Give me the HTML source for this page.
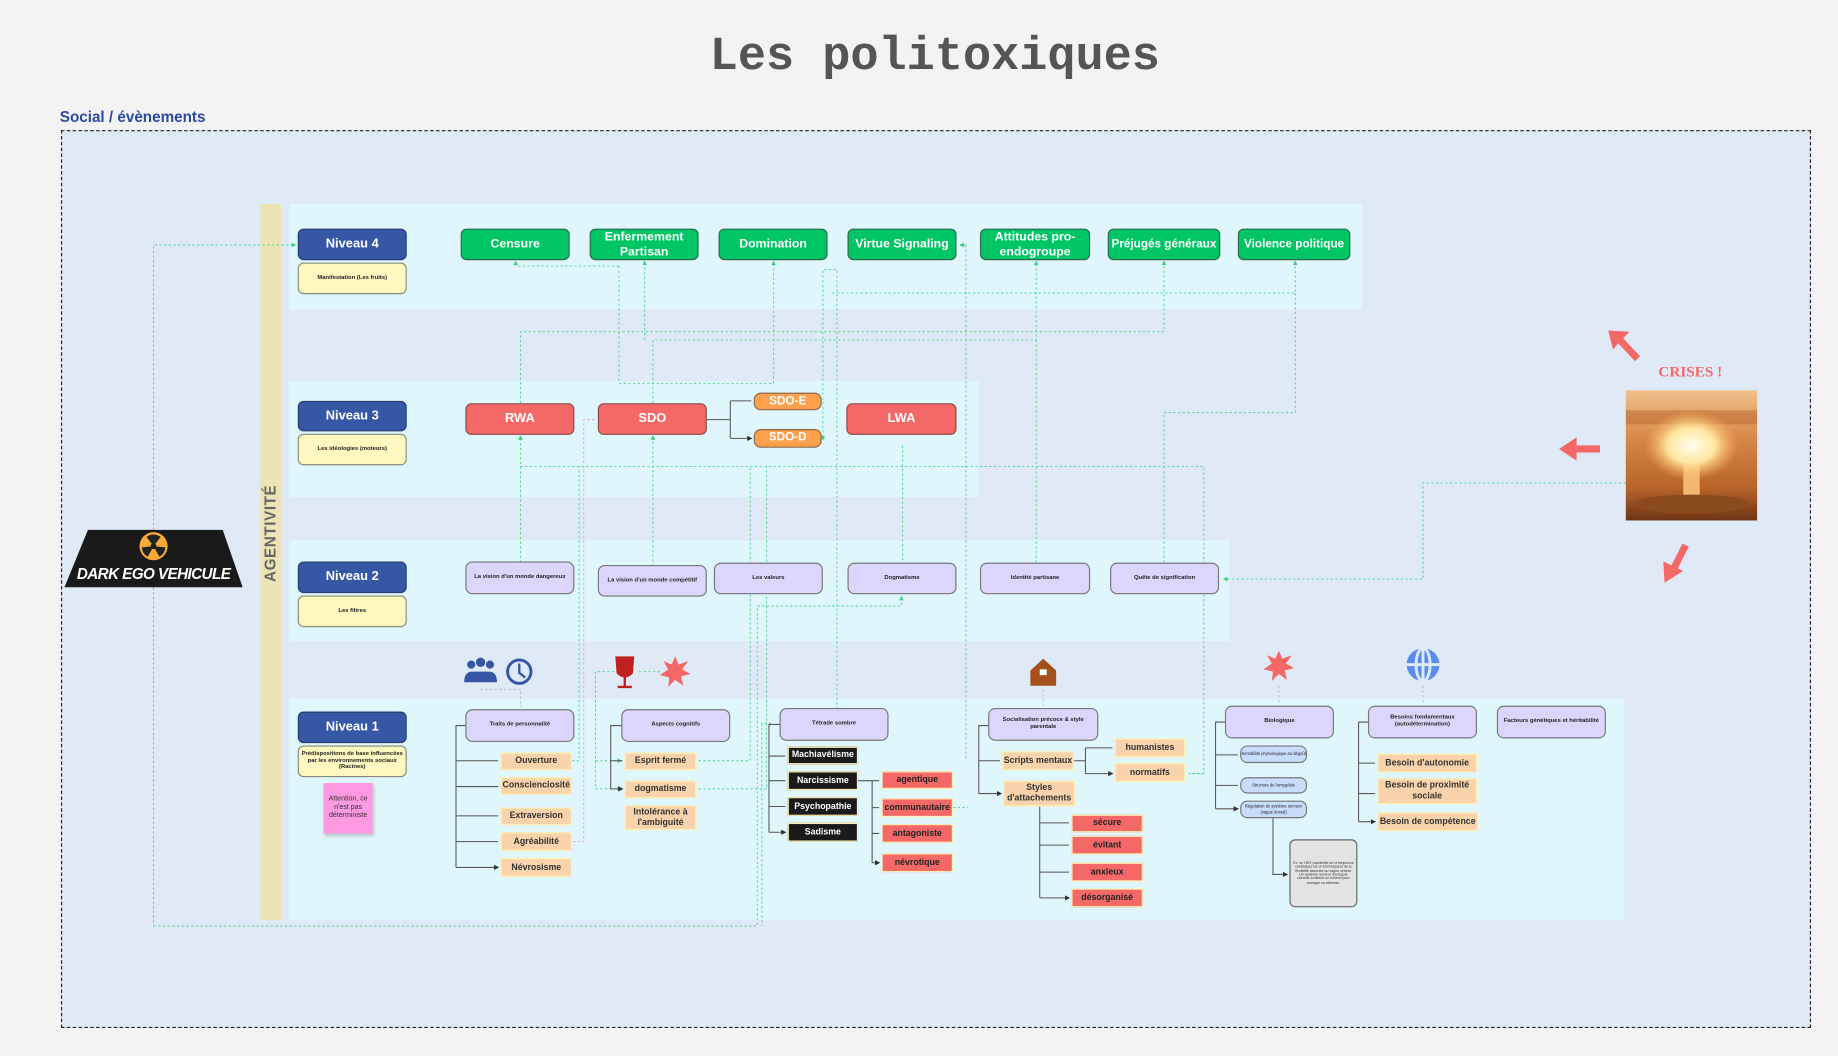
<!DOCTYPE html>
<html><head><meta charset="utf-8"><style>
html,body{margin:0;padding:0;width:1838px;height:1056px;overflow:hidden;background:#f3f3f3}
#w{position:absolute;left:0;top:0;width:1568px;height:901px;transform:scale(1.17219);transform-origin:0 0;font-family:"Liberation Sans",sans-serif}
.a{position:absolute;box-sizing:border-box;display:flex;align-items:center;justify-content:center;text-align:center;line-height:1.15}
.nv{background:#3557a5;color:#fff;border:1px solid #2a3f70;border-radius:5px;font-weight:bold;font-size:11px}
.sb{background:#fff7c0;border:1px solid #8a8a7a;border-radius:5px;font-size:5px;font-weight:bold;color:#222}
.g{background:#00c565;color:#fff;border:1px solid #2d6b4a;border-radius:5px;font-weight:bold;font-size:10.5px}
.r{background:#f56868;color:#fff;border:1px solid #8a4a4a;border-radius:5px;font-weight:bold;font-size:11px}
.o{background:#ffa04d;color:#fff;border:1px solid #8a6a4a;border-radius:6px;font-weight:bold;font-size:10px}
.p{background:#ddd6fc;border:1px solid #777;border-radius:6px;font-size:5px;color:#222;font-weight:bold}
.t{background:#f9d3ab;border:1px solid #fff0b0;font-size:7.5px;font-weight:bold;color:#333}
.k{background:#1a1a1a;border:1px solid #fff0b0;font-size:7.5px;font-weight:bold;color:#fff}
.rr{background:#f56868;border:1px solid #fff0b0;font-size:7.5px;font-weight:bold;color:#222}
.b{background:#c8dcfb;border:1px solid #777;border-radius:6px;font-size:3.5px;color:#222}
.band{position:absolute;background:#e0f6fd}
</style></head><body><div id="w">
<div class="a" style="left:500px;top:25px;width:595px;height:50px;font-family:'Liberation Mono',monospace;font-weight:bold;font-size:40px;color:#555">Les politoxiques</div>
<div style="position:absolute;left:51px;top:92px;font-size:13px;font-weight:bold;color:#2b4aa0">Social / évènements</div>
<div style="position:absolute;left:52px;top:111px;width:1493px;height:766px;background:#e0eaf6;border:1px dashed #222;box-sizing:border-box"></div>
<div class="band" style="left:247px;top:174px;width:915px;height:90px"></div>
<div class="band" style="left:247px;top:325px;width:588px;height:99px"></div>
<div class="band" style="left:247px;top:461px;width:802px;height:86px"></div>
<div class="band" style="left:247px;top:596px;width:1138px;height:189px"></div>
<div style="position:absolute;left:222px;top:174px;width:18px;height:611px;background:#ebe5b5"></div>
<div class="a" style="left:181px;top:446px;width:100px;height:18px;transform:rotate(-90deg);font-size:13px;font-weight:bold;color:#666;letter-spacing:0.5px">AGENTIVITÉ</div>

<svg style="position:absolute;left:0;top:0" width="1568" height="901">
<defs><marker id="m" markerWidth="5" markerHeight="5" refX="4" refY="2.5" orient="auto"><path d="M0,0L5,2.5L0,5z" fill="#3ecf7d"/></marker>
<marker id="k" markerWidth="5" markerHeight="5" refX="4" refY="2.5" orient="auto"><path d="M0,0L5,2.5L0,5z" fill="#333"/></marker>
<radialGradient id="boom" cx="50%" cy="50%" r="50%"><stop offset="0" stop-color="#fffdf0"/><stop offset="0.5" stop-color="#ffe7a0"/><stop offset="1" stop-color="#ffb060" stop-opacity="0"/></radialGradient>
<linearGradient id="sky" x1="0" y1="0" x2="0" y2="1"><stop offset="0" stop-color="#f0c08a"/><stop offset="0.35" stop-color="#d98a4a"/><stop offset="0.75" stop-color="#b8642a"/><stop offset="1" stop-color="#6e3414"/></linearGradient></defs>
<g fill="none" stroke="#4fd38a" stroke-width="0.8" stroke-dasharray="2,2">
<path d="M131,452V209H252" marker-end="url(#m)"/>
<path d="M131,790H646V517H769V509" marker-end="url(#m)"/>
<path d="M131,501V790"/>
<path d="M444,480V372" marker-end="url(#m)"/>
<path d="M444,344V283H993V223" marker-end="url(#m)"/>
<path d="M557,483V372" marker-end="url(#m)"/>
<path d="M557,344V290H884V223" marker-end="url(#m)"/>
<path d="M550,290V223" marker-end="url(#m)"/>
<path d="M528,227V327H660V223" marker-end="url(#m)"/>
<path d="M528,227H440V223" marker-end="url(#m)"/>
<path d="M714,605V230H702V375" marker-end="url(#m)"/>
<path d="M710,250H1105V223" marker-end="url(#m)"/>
<path d="M884,290V480"/>
<path d="M993,480V352H1105V250"/>
<path d="M824,209H819" marker-end="url(#m)"/>
<path d="M824,209V649"/>
<path d="M444,398H1027V660H1013"/>
<path d="M1387,412H1214V494H1044" marker-end="url(#m)"/>
<path d="M770,380V480"/>
<path d="M488,649H494V398"/>
<path d="M596,649H640V398"/>
<path d="M596,673H654V398"/>
<path d="M813,689H826"/>
<path d="M532,573H508V649H530" marker-end="url(#m)"/>
<path d="M508,649V673H530" marker-end="url(#m)"/>
<path d="M545,573H565"/>
<path d="M658,617H650V790"/>
<path d="M1017,660H1027"/>
</g>
<g fill="none" stroke="#f5a0a0" stroke-width="0.8" stroke-dasharray="2,2">
<path d="M489,718H498V358H508" />
</g>
<g fill="none" stroke="#bbb" stroke-width="0.8" stroke-dasharray="2,2">
<path d="M410,588H444V603"/><path d="M890,588V603"/><path d="M1091,585V600"/><path d="M1214,585V600"/>
</g>
<g fill="none" stroke="#555" stroke-width="0.9">
<path d="M397,619H389V740"/><path d="M389,649H425M389,671H425M389,696H425M389,718H425M389,740H425" marker-end="url(#k)"/>
<path d="M530,619H521V673"/><path d="M521,649H531M521,673H531" marker-end="url(#k)"/>
<path d="M665,618H656V710"/><path d="M656,645H670M656,666H670M656,688H670M656,710H670" marker-end="url(#k)"/>
<path d="M731,666H744V736"/><path d="M744,666H750M744,689H750M744,711H750M744,736H750" marker-end="url(#k)"/>
<path d="M843,619H835V677"/><path d="M835,649H853M835,677H854" marker-end="url(#k)"/>
<path d="M916,649H926V660"/><path d="M926,638V649"/><path d="M926,638H949M926,660H949" marker-end="url(#k)"/>
<path d="M887,688V766"/><path d="M887,702H912M887,721H912M887,744H912M887,766H912" marker-end="url(#k)"/>
<path d="M1045,616H1037V690"/><path d="M1037,644H1056M1037,670H1056M1037,690H1056" marker-end="url(#k)"/>
<path d="M1086,698V746H1098" marker-end="url(#k)"/>
<path d="M1167,616H1159V701"/><path d="M1159,651H1173M1159,677H1173M1159,701H1173" marker-end="url(#k)"/>
<path d="M603,358H623V374M623,342V358M623,342H641M623,374H641" marker-end="url(#k)"/>
</g>
<g fill="#3557a5"><circle cx="402" cy="567" r="3.5"/><circle cx="410" cy="565" r="4"/><circle cx="418" cy="567" r="3.5"/><path d="M396,582q0-9 7-9h14q7,0 7,9z"/></g>
<circle cx="443" cy="573" r="10" fill="none" stroke="#3557a5" stroke-width="2.5"/><path d="M443,566V574L448,578" stroke="#3557a5" stroke-width="2" fill="none"/>
<path d="M526,561H540L539,574Q533,580 527,574Z M533,578V585M527,586H539" fill="#c02020" stroke="#c02020" stroke-width="2"/>
<polygon points="576,560 579,567 587,564 582,571 589,575 581,577 583,585 576,580 570,586 571,578 563,576 570,571 566,564 573,567" fill="#f56868"/>
<polygon points="1091,555 1094,562 1102,559 1097,566 1104,570 1096,572 1098,580 1091,575 1085,581 1086,573 1078,571 1085,566 1081,559 1088,562" fill="#f56868"/>
<path d="M879,572L890,562L901,572V585H879Z" fill="#a4501c"/><rect x="887" y="571" width="6" height="5" fill="#fff"/>
<circle cx="1214" cy="567" r="14" fill="#5a8cf0"/><path d="M1200,567H1228M1214,553V581" stroke="#e0eaf6" stroke-width="2.5"/><ellipse cx="1214" cy="567" rx="6" ry="14" fill="none" stroke="#e0eaf6" stroke-width="2.5"/>
<g stroke="#f56868" stroke-width="6" fill="#f56868"><path d="M1397,306L1380,288"/><polygon points="1372,282 1390,283 1376,298" stroke="none"/>
<path d="M1365,383H1345"/><polygon points="1330,383 1345,373 1345,393" stroke="none"/>
<path d="M1438,465L1428,485"/><polygon points="1420,497 1419,479 1436,487" stroke="none"/></g>
<!-- mushroom image -->
<rect x="1387" y="333" width="112" height="111" fill="url(#sky)"/>
<rect x="1387" y="350" width="112" height="12" fill="#b8652c" opacity="0.5"/>
<rect x="1436" y="395" width="14" height="30" fill="#f2b870"/>
<ellipse cx="1443" cy="430" rx="50" ry="8" fill="#8a4a1c"/>
<ellipse cx="1443" cy="380" rx="40" ry="30" fill="url(#boom)"/>
<polygon points="75,452 190,452 207,501 55,501" fill="#1a1a1a"/>
<circle cx="131" cy="466" r="12" fill="#f7a93a"/><circle cx="131" cy="466" r="2.5" fill="#222"/>
<path d="M131,466L125,458A10,10 0 0,1 137,458Z M131,466L141,467A10,10 0 0,1 136,475Z M131,466L126,475A10,10 0 0,1 121,467Z" fill="#222"/>
</svg>
<div class="a" style="left:60px;top:480px;width:142px;height:20px;color:#fff;font-weight:bold;font-style:italic;font-size:13px;letter-spacing:-0.5px">DARK EGO VEHICULE</div>

<div class="a nv" style="left:254px;top:195px;width:93px;height:27px">Niveau 4</div>
<div class="a sb" style="left:254px;top:224px;width:93px;height:27px">Manifestation (Les fruits)</div>
<div class="a nv" style="left:254px;top:342px;width:93px;height:26px">Niveau 3</div>
<div class="a sb" style="left:254px;top:370px;width:93px;height:27px">Les idéologies (moteurs)</div>
<div class="a nv" style="left:254px;top:479px;width:93px;height:27px">Niveau 2</div>
<div class="a sb" style="left:254px;top:508px;width:93px;height:27px">Les filtres</div>
<div class="a nv" style="left:254px;top:607px;width:93px;height:27px">Niveau 1</div>
<div class="a sb" style="left:254px;top:636px;width:93px;height:27px">Prédispositions de base influencées par les environnements sociaux (Racines)</div>
<div class="a" style="left:276px;top:668px;width:42px;height:43px;background:#fd9ae2;font-size:6px;color:#333;box-shadow:1px 2px 3px rgba(0,0,0,.2)">Attention, ce n'est pas déterministe</div>

<div class="a g" style="left:393px;top:195px;width:93px;height:27px">Censure</div>
<div class="a g" style="left:503px;top:195px;width:93px;height:27px">Enfermement Partisan</div>
<div class="a g" style="left:613px;top:195px;width:93px;height:27px">Domination</div>
<div class="a g" style="left:723px;top:195px;width:93px;height:27px">Virtue Signaling</div>
<div class="a g" style="left:836px;top:195px;width:94px;height:27px">Attitudes pro-endogroupe</div>
<div class="a g" style="left:945px;top:195px;width:96px;height:27px;font-size:10px">Préjugés généraux</div>
<div class="a g" style="left:1056px;top:195px;width:96px;height:27px;font-size:10px">Violence politique</div>

<div class="a r" style="left:397px;top:344px;width:93px;height:27px">RWA</div>
<div class="a r" style="left:510px;top:344px;width:93px;height:27px">SDO</div>
<div class="a r" style="left:722px;top:344px;width:94px;height:27px">LWA</div>
<div class="a o" style="left:643px;top:335px;width:58px;height:15px">SDO-E</div>
<div class="a o" style="left:643px;top:366px;width:58px;height:16px">SDO-D</div>

<div class="a p" style="left:397px;top:479px;width:93px;height:28px">La vision d'un monde dangereux</div>
<div class="a p" style="left:510px;top:482px;width:93px;height:27px">La vision d'un monde compétitif</div>
<div class="a p" style="left:609px;top:480px;width:93px;height:27px">Les valeurs</div>
<div class="a p" style="left:723px;top:480px;width:93px;height:27px">Dogmatisme</div>
<div class="a p" style="left:836px;top:480px;width:94px;height:27px">Identité partisane</div>
<div class="a p" style="left:947px;top:480px;width:93px;height:27px">Quête de signification</div>

<div class="a p" style="left:397px;top:605px;width:93px;height:28px">Traits de personnalité</div>
<div class="a p" style="left:530px;top:605px;width:93px;height:28px">Aspects cognitifs</div>
<div class="a p" style="left:665px;top:604px;width:93px;height:28px">Tétrade sombre</div>
<div class="a p" style="left:843px;top:604px;width:94px;height:28px">Socialisation précoce &amp; style parentale</div>
<div class="a p" style="left:1045px;top:602px;width:93px;height:28px">Biologique</div>
<div class="a p" style="left:1167px;top:602px;width:93px;height:28px">Besoins fondamentaux (autodétermination)</div>
<div class="a p" style="left:1277px;top:602px;width:93px;height:28px">Facteurs génétiques et héritabilité</div>

<div class="a t" style="left:427px;top:642px;width:61px;height:15px">Ouverture</div>
<div class="a t" style="left:427px;top:663px;width:61px;height:15px">Conscienciosité</div>
<div class="a t" style="left:427px;top:689px;width:61px;height:15px">Extraversion</div>
<div class="a t" style="left:427px;top:710px;width:61px;height:16px">Agréabilité</div>
<div class="a t" style="left:427px;top:732px;width:61px;height:16px">Névrosisme</div>
<div class="a t" style="left:533px;top:642px;width:61px;height:15px">Esprit fermé</div>
<div class="a t" style="left:533px;top:666px;width:61px;height:15px">dogmatisme</div>
<div class="a t" style="left:533px;top:687px;width:61px;height:21px">Intolérance à l'ambiguité</div>

<div class="a k" style="left:672px;top:637px;width:60px;height:15px">Machiavélisme</div>
<div class="a k" style="left:672px;top:658px;width:60px;height:16px">Narcissisme</div>
<div class="a k" style="left:672px;top:680px;width:60px;height:16px">Psychopathie</div>
<div class="a k" style="left:672px;top:702px;width:60px;height:16px">Sadisme</div>
<div class="a rr" style="left:752px;top:658px;width:61px;height:15px">agentique</div>
<div class="a rr" style="left:752px;top:681px;width:61px;height:16px">communautaire</div>
<div class="a rr" style="left:752px;top:703px;width:61px;height:16px">antagoniste</div>
<div class="a rr" style="left:752px;top:728px;width:61px;height:16px">névrotique</div>

<div class="a t" style="left:855px;top:641px;width:61px;height:16px">Scripts mentaux</div>
<div class="a t" style="left:856px;top:666px;width:61px;height:22px">Styles d'attachements</div>
<div class="a t" style="left:951px;top:630px;width:60px;height:16px">humanistes</div>
<div class="a t" style="left:951px;top:651px;width:60px;height:16px">normatifs</div>
<div class="a rr" style="left:914px;top:695px;width:61px;height:15px">sécure</div>
<div class="a rr" style="left:914px;top:713px;width:61px;height:16px">évitant</div>
<div class="a rr" style="left:914px;top:736px;width:61px;height:16px">anxieux</div>
<div class="a rr" style="left:914px;top:758px;width:61px;height:16px">désorganisé</div>

<div class="a b" style="left:1058px;top:636px;width:57px;height:15px">Sensibilité physiologique au dégoût</div>
<div class="a b" style="left:1058px;top:663px;width:57px;height:14px">Structure de l'amygdale</div>
<div class="a b" style="left:1058px;top:683px;width:57px;height:15px">Régulation du système nerveux (vague dorsal)</div>
<div class="a" style="left:1100px;top:716px;width:58px;height:58px;background:#e4e4e4;border:1px solid #666;border-radius:5px;font-size:3px;color:#333;padding:2px">Ex: un HRV (variabilité de la fréquence cardiaque) est un biomarqueur de la flexibilité associée au vague ventral. Un système nerveux dysrégulé cherche à détenir un ennemi pour soulager sa détresse.</div>

<div class="a t" style="left:1175px;top:643px;width:85px;height:16px">Besoin d'autonomie</div>
<div class="a t" style="left:1175px;top:664px;width:85px;height:22px">Besoin de proximité sociale</div>
<div class="a t" style="left:1175px;top:693px;width:86px;height:16px">Besoin de compétence</div>

<div class="a" style="left:1402px;top:308px;width:80px;height:18px;color:#f56868;font-weight:bold;font-family:'Liberation Serif',serif;font-size:13px">CRISES !</div>
</div></body></html>
